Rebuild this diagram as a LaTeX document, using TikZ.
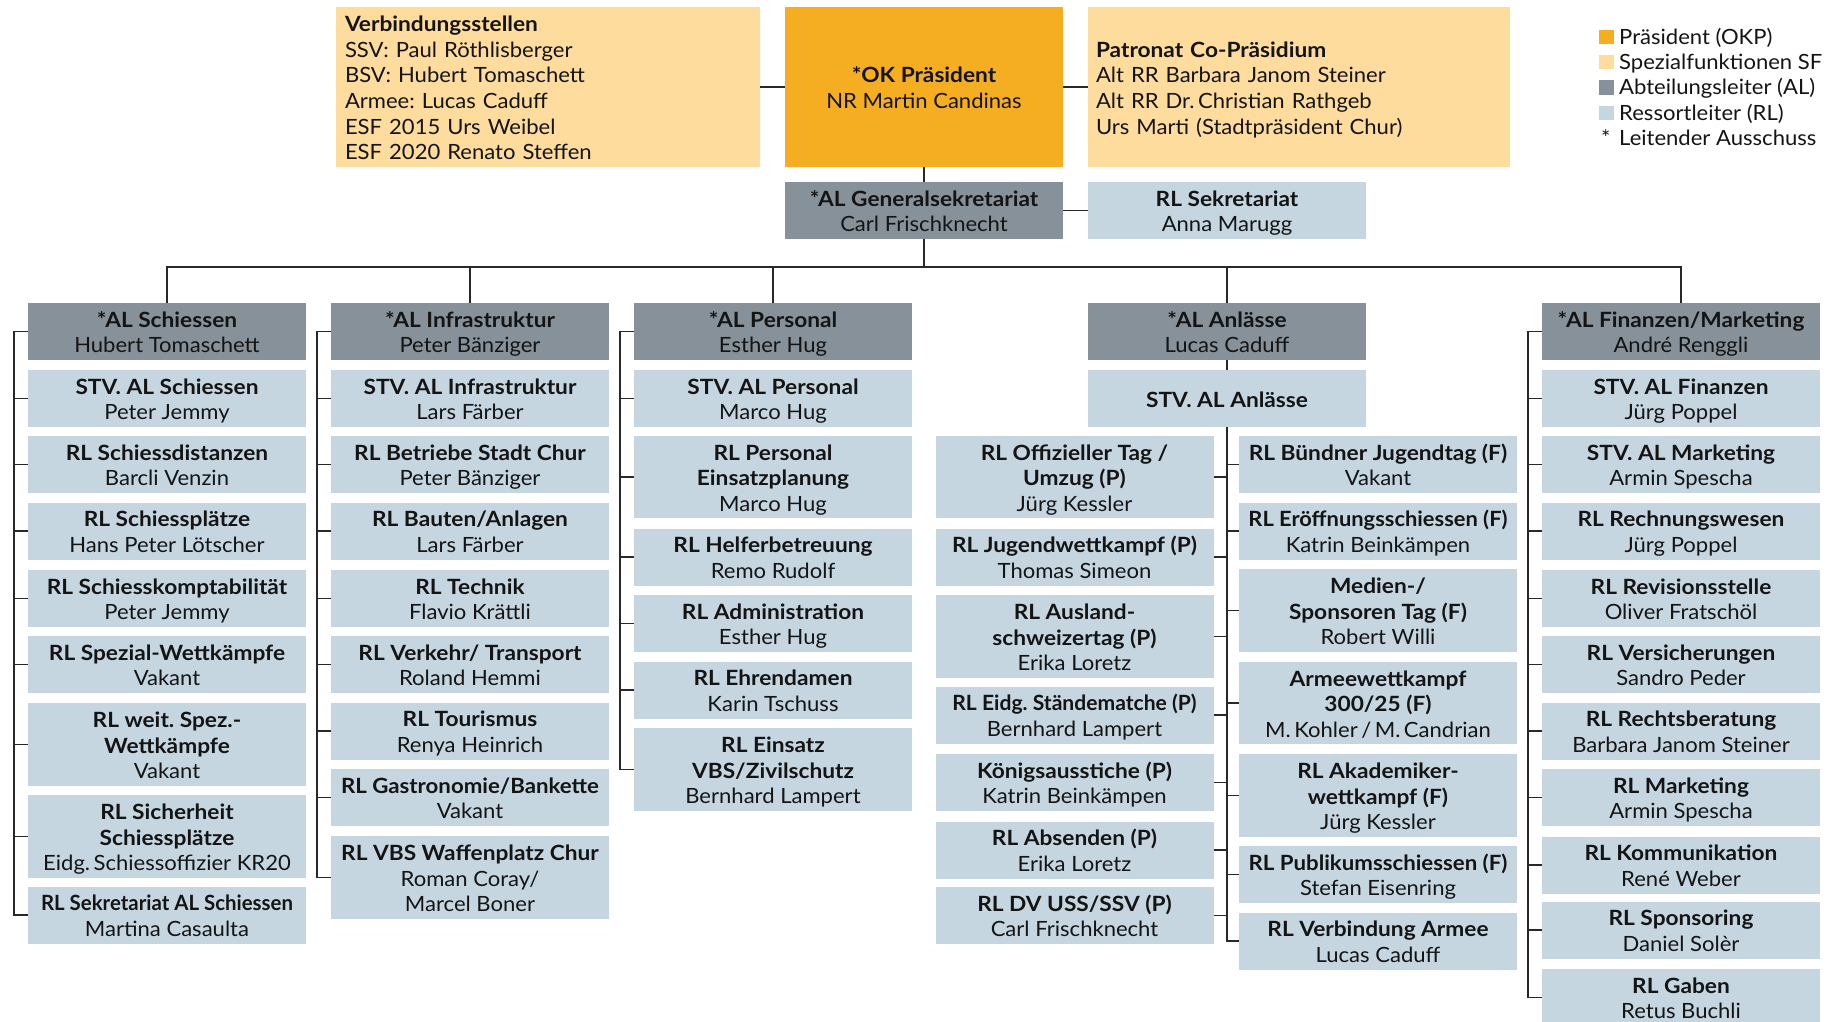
\documentclass[tikz,border=0pt]{standalone}
\usepackage{graphicx}
\usepackage{fontspec}
\setmainfont{Lato}[FakeStretch=1.05, BoldFeatures={FakeStretch=1.08}]
\frenchspacing
\definecolor{okpc}{RGB}{245,174,34}
\definecolor{sfc}{RGB}{253,220,158}
\definecolor{alc}{RGB}{135,145,153}
\definecolor{rlc}{RGB}{197,214,225}
\definecolor{txt}{RGB}{20,20,20}
\definecolor{linec}{RGB}{40,40,40}
\newcommand\bxfont{\fontsize{21pt}{25.6pt}\selectfont}
\newcommand\sst{\rule[-4.2pt]{0pt}{25.6pt}}
\newcommand\cnd[2]{\scalebox{#1}[1]{#2}}
\newcommand\bxi[1]{\sst\textbf{#1}}
\newcommand\bxii[2]{\sst\textbf{#1}\\\sst #2}
\newcommand\bxiii[3]{\sst\textbf{#1}\\\sst\textbf{#2}\\\sst #3}
\newcommand\bxiiib[3]{\sst\textbf{#1}\\\sst #2\\\sst #3}
\tikzset{
  box/.style={inner sep=0pt, minimum width=278pt, align=center, font=\bxfont, text=txt},
  hii/.style={minimum height=57pt},
  hiii/.style={minimum height=82.5pt},
  rl/.style={box, fill=rlc},
  al/.style={box, fill=alc},
  conn/.style={draw=linec, line width=1.6pt},
  legsq/.style={inner sep=0pt, minimum width=15pt, minimum height=14.5pt, anchor=south west},
  legtxt/.style={inner sep=0pt, anchor=base west, font=\bxfont, text=txt}
}
\begin{document}
\begin{tikzpicture}[x=1pt,y=-1pt]
\useasboundingbox (0,0) rectangle (1829,1021);

% top row
\node[box, fill=sfc, name=vb, minimum width=424pt, minimum height=160pt, text width=406pt, align=left, inner xsep=9pt] at (548,87)
 {\sst\textbf{Verbindungsstellen}\\\sst SSV: Paul Röthlisberger\\\sst BSV: Hubert Tomaschett\\\sst Armee: Lucas Caduff\\\sst ESF 2015 Urs Weibel\\\sst ESF 2020 Renato Steffen};
\node[box, fill=okpc, name=okp, minimum height=160pt] at (924,87) {\bxii{*OK Präsident}{NR Martin Candinas}};
\node[box, fill=sfc, name=pat, minimum width=422pt, minimum height=160pt, text width=406pt, align=left, inner xsep=8pt] at (1299,87)
 {\sst\textbf{Patronat Co-Präsidium}\\\sst Alt RR Barbara Janom Steiner\\\sst Alt RR Dr.\,Christian Rathgeb\\\sst Urs Marti (Stadtpräsident Chur)};
\node[al, hii, name=gs] at (924,210.5) {\bxii{*AL Generalsekretariat}{Carl Frischknecht}};
\node[rl, hii, name=rls] at (1227,210.5) {\bxii{RL Sekretariat}{Anna Marugg}};

% legend
\node[legsq, fill=okpc, name=lg1] at (1599,44.3) {};
\node[legtxt, name=lt1] at (1619,44.3) {Präsident (OKP)};
\node[legsq, fill=sfc, name=lg2] at (1599,69.6) {};
\node[legtxt, name=lt2] at (1619,69.6) {Spezialfunktionen SF};
\node[legsq, fill=alc, name=lg3] at (1599,94.9) {};
\node[legtxt, name=lt3] at (1619,94.9) {Abteilungsleiter (AL)};
\node[legsq, fill=rlc, name=lg4] at (1599,120.2) {};
\node[legtxt, name=lt4] at (1619,120.2) {Ressortleiter (RL)};
\node[legtxt, name=lg5] at (1601,145.5) {*};
\node[legtxt, name=lt5] at (1619,145.5) {Leitender Ausschuss};

% column 1: Schiessen
\node[al, hii, name=a1] at (167,331.5) {\bxii{*AL Schiessen}{Hubert Tomaschett}};
\node[rl, hii, name=a2] at (167,398.5) {\bxii{STV. AL Schiessen}{Peter Jemmy}};
\node[rl, hii, name=a3] at (167,464.5) {\bxii{RL Schiessdistanzen}{Barcli Venzin}};
\node[rl, hii, name=a4] at (167,531) {\bxii{RL Schiessplätze}{Hans Peter Lötscher}};
\node[rl, hii, name=a5] at (167,598.5) {\bxii{RL Schiesskomptabilität}{Peter Jemmy}};
\node[rl, hii, name=a6] at (167,664.5) {\bxii{RL Spezial-Wettkämpfe}{Vakant}};
\node[rl, hiii, name=a7] at (167,744.5) {\bxiii{RL weit. Spez.-}{Wettkämpfe}{Vakant}};
\node[rl, hiii, name=a8] at (167,836.5) {\bxiii{RL Sicherheit}{Schiessplätze}{Eidg.\,Schiessoffizier KR20}};
\node[rl, hii, name=a9] at (167,915) {\bxii{\cnd{0.9}{RL Sekretariat AL Schiessen}}{Martina Casaulta}};

% column 2: Infrastruktur
\node[al, hii, name=b1] at (470,331.5) {\bxii{*AL Infrastruktur}{Peter Bänziger}};
\node[rl, hii, name=b2] at (470,398.5) {\bxii{STV. AL Infrastruktur}{Lars Färber}};
\node[rl, hii, name=b3] at (470,464.5) {\bxii{RL Betriebe Stadt Chur}{Peter Bänziger}};
\node[rl, hii, name=b4] at (470,531) {\bxii{RL Bauten/Anlagen}{Lars Färber}};
\node[rl, hii, name=b5] at (470,598.5) {\bxii{RL Technik}{Flavio Krättli}};
\node[rl, hii, name=b6] at (470,664.5) {\bxii{RL Verkehr/ Transport}{Roland Hemmi}};
\node[rl, hii, name=b7] at (470,731) {\bxii{RL Tourismus}{Renya Heinrich}};
\node[rl, hii, name=b8] at (470,797.5) {\bxii{\cnd{0.98}{RL Gastronomie/Bankette}}{Vakant}};
\node[rl, hiii, name=b9] at (470,877.5) {\bxiiib{RL VBS Waffenplatz Chur}{Roman Coray/}{Marcel Boner}};

% column 3: Personal
\node[al, hii, name=c1] at (773,331.5) {\bxii{*AL Personal}{Esther Hug}};
\node[rl, hii, name=c2] at (773,398.5) {\bxii{STV. AL Personal}{Marco Hug}};
\node[rl, hiii, name=c3] at (773,477) {\bxiii{RL Personal}{Einsatzplanung}{Marco Hug}};
\node[rl, hii, name=c4] at (773,557) {\bxii{RL Helferbetreuung}{Remo Rudolf}};
\node[rl, hii, name=c5] at (773,623.5) {\bxii{RL Administration}{Esther Hug}};
\node[rl, hii, name=c6] at (773,690) {\bxii{RL Ehrendamen}{Karin Tschuss}};
\node[rl, hiii, name=c7] at (773,769.5) {\bxiii{RL Einsatz}{VBS/Zivilschutz}{Bernhard Lampert}};

% column 4: Anlässe
\node[al, hii, name=d1] at (1227,331.5) {\bxii{*AL Anlässe}{Lucas Caduff}};
\node[rl, hii, name=d2] at (1227,398.5) {\bxi{STV. AL Anlässe}};
\node[rl, hiii, name=l1] at (1074.5,477) {\bxiii{RL Offizieller Tag /}{Umzug (P)}{Jürg Kessler}};
\node[rl, hii, name=l2] at (1074.5,557) {\bxii{RL Jugendwettkampf (P)}{Thomas Simeon}};
\node[rl, hiii, name=l3] at (1074.5,636.5) {\bxiii{RL Ausland-}{schweizertag (P)}{Erika Loretz}};
\node[rl, hii, name=l4] at (1074.5,715) {\bxii{\cnd{0.93}{RL Eidg. Ständematche (P)}}{Bernhard Lampert}};
\node[rl, hii, name=l5] at (1074.5,782.5) {\bxii{Königsausstiche (P)}{Katrin Beinkämpen}};
\node[rl, hii, name=l6] at (1074.5,850) {\bxii{RL Absenden (P)}{Erika Loretz}};
\node[rl, hii, name=l7] at (1074.5,915.5) {\bxii{RL DV USS/SSV (P)}{Carl Frischknecht}};
\node[rl, hii, name=r1] at (1378,464.5) {\bxii{RL Bündner Jugendtag (F)}{Vakant}};
\node[rl, hii, name=r2] at (1378,531) {\bxii{\cnd{0.965}{RL Eröffnungsschiessen (F)}}{Katrin Beinkämpen}};
\node[rl, hiii, name=r3] at (1378,610.5) {\bxiii{Medien-/}{Sponsoren Tag (F)}{Robert Willi}};
\node[rl, hiii, name=r4] at (1378,703) {\bxiii{Armeewettkampf}{300/25 (F)}{M.\,Kohler\,/\,M.\,Candrian}};
\node[rl, hiii, name=r5] at (1378,795.5) {\bxiii{RL Akademiker-}{wettkampf (F)}{Jürg Kessler}};
\node[rl, hii, name=r6] at (1378,874.5) {\bxii{\cnd{0.98}{RL Publikumsschiessen (F)}}{Stefan Eisenring}};
\node[rl, hii, name=r7] at (1378,941) {\bxii{RL Verbindung Armee}{Lucas Caduff}};

% column 5: Finanzen/Marketing
\node[al, hii, name=e1] at (1681,331.5) {\bxii{*AL Finanzen/Marketing}{André Renggli}};
\node[rl, hii, name=e2] at (1681,398.5) {\bxii{STV. AL Finanzen}{Jürg Poppel}};
\node[rl, hii, name=e3] at (1681,464.5) {\bxii{STV. AL Marketing}{Armin Spescha}};
\node[rl, hii, name=e4] at (1681,531) {\bxii{RL Rechnungswesen}{Jürg Poppel}};
\node[rl, hii, name=e5] at (1681,598.5) {\bxii{RL Revisionsstelle}{Oliver Fratschöl}};
\node[rl, hii, name=e6] at (1681,664.5) {\bxii{RL Versicherungen}{Sandro Peder}};
\node[rl, hii, name=e7] at (1681,731) {\bxii{RL Rechtsberatung}{Barbara Janom Steiner}};
\node[rl, hii, name=e8] at (1681,797.5) {\bxii{RL Marketing}{Armin Spescha}};
\node[rl, hii, name=e9] at (1681,865) {\bxii{RL Kommunikation}{René Weber}};
\node[rl, hii, name=e10] at (1681,930) {\bxii{RL Sponsoring}{Daniel Solèr}};
\node[rl, hii, name=e11] at (1681,997.5) {\bxii{RL Gaben}{Retus Buchli}};

% connectors: top
\draw[conn] (vb.east) -- (okp.west);
\draw[conn] (okp.east) -- (pat.west);
\draw[conn] (okp.south) -- (gs.north);
\draw[conn] (gs.east) -- (rls.west);
\coordinate (bus) at (924,267);
\draw[conn] (gs.south) -- (bus);
\draw[conn] (a1.north) |- (bus) -| (e1.north);
\draw[conn] (b1.north) -- (b1.north |- bus);
\draw[conn] (c1.north) -- (c1.north |- bus);
\draw[conn] (d1.north) -- (d1.north |- bus);

% spines
\draw[conn] (a1.west) -- ++(-14,0) |- (a9.west);
\foreach \n in {a2,a3,a4,a5,a6,a7,a8} \draw[conn] (\n.west) -- ++(-14,0);
\draw[conn] (b1.west) -- ++(-14,0) |- (b9.west);
\foreach \n in {b2,b3,b4,b5,b6,b7,b8} \draw[conn] (\n.west) -- ++(-14,0);
\draw[conn] (c1.west) -- ++(-14,0) |- (c7.west);
\foreach \n in {c2,c3,c4,c5,c6} \draw[conn] (\n.west) -- ++(-14,0);
\draw[conn] (e1.west) -- ++(-14,0) |- (e11.west);
\foreach \n in {e2,e3,e4,e5,e6,e7,e8,e9,e10} \draw[conn] (\n.west) -- ++(-14,0);

\draw[conn] (d1.south) -- (d2.north);
\draw[conn] (d2.south) |- (r7.west);
\foreach \n in {l1,l2,l3,l4,l5,l6,l7} \draw[conn] (\n.east) -- (\n.east -| d2.south);
\foreach \n in {r1,r2,r3,r4,r5,r6} \draw[conn] (\n.west) -- (\n.west -| d2.south);
\end{tikzpicture}
\end{document}
